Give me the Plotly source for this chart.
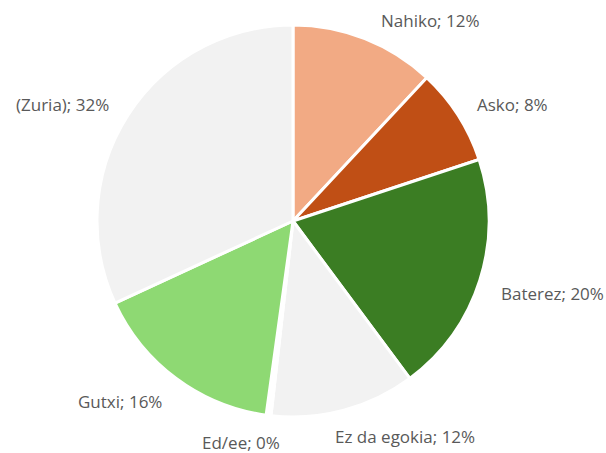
import math
import plotly.graph_objects as go

labels = ["Nahiko", "Asko", "Baterez", "Ez da egokia", "Ed/ee", "Gutxi", "(Zuria)"]
values = [12, 8, 20, 12, 0.4, 16, 32]
colors = ["#F2AA84", "#C04F15", "#3B7D23", "#F2F2F2", "#FFFFFF", "#8ED973", "#F2F2F2"]

W, H = 606, 453
ml, mt = 97, 25
pw = ph = 392
mr, mb = W - ml - pw, H - mt - ph
R = pw / 2.0
label_r = R + 20

fig = go.Figure(go.Pie(
    labels=labels,
    values=values,
    sort=False,
    direction="clockwise",
    rotation=0,
    marker=dict(colors=colors, line=dict(color="#FFFFFF", width=3)),
    textinfo="none",
    showlegend=False,
    hoverinfo="label+percent",
))

total = sum(values)
cum = 0.0
annotations = []
for lab, v in zip(labels, values):
    mid = (cum + v / 2.0) / total * 2 * math.pi
    cum += v
    s, c = math.sin(mid), math.cos(mid)
    x = 0.5 + label_r * s / pw
    y = 0.5 + label_r * c / ph
    pct = round(v / total * 100)
    xshift = 0
    if abs(s) < 0.3:
        xshift = -16 if s >= 0 else 16
    elif abs(s) < 0.5:
        xshift = 7 if s >= 0 else -7
    annotations.append(dict(
        x=x, y=y, xref="paper", yref="paper",
        text=f"{lab}; {pct}%", showarrow=False,
        xanchor="left" if s >= 0 else "right",
        yanchor="middle",
        xshift=xshift,
        yshift=-7 if c < 0 else 0,
        font=dict(family="Open Sans, Liberation Sans, Arial, sans-serif", size=17, color="#595959"),
    ))

fig.update_layout(
    width=W, height=H,
    margin=dict(l=ml, r=mr, t=mt, b=mb),
    paper_bgcolor="#FFFFFF",
    plot_bgcolor="#FFFFFF",
    annotations=annotations,
)
fig.write_html(
    "out.html",
    config={"displayModeBar": False},
    post_script="document.body.style.margin='0';document.body.style.overflow='hidden';",
)
